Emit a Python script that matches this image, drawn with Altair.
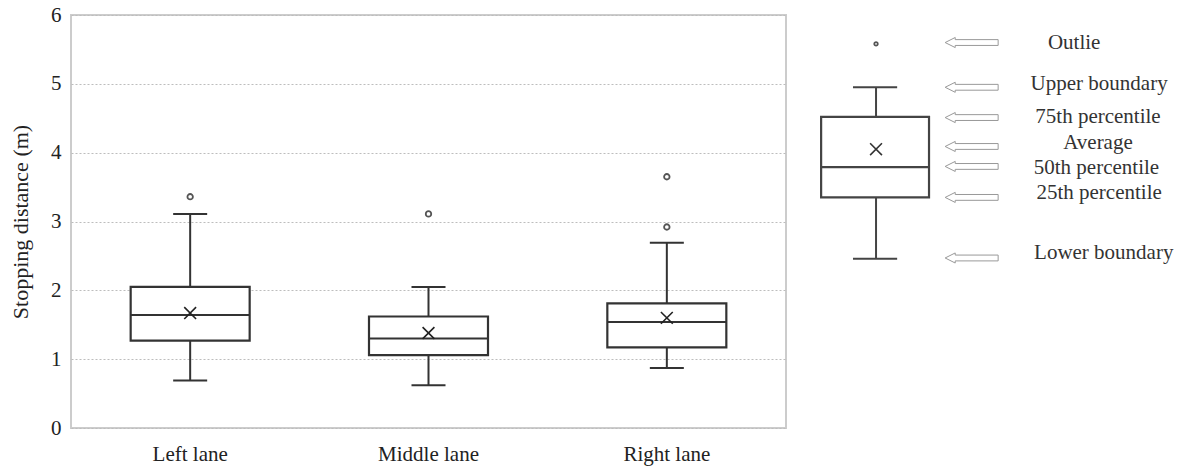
import altair as alt
import pandas as pd

# ---- data ----
lanes = ["Left lane", "Middle lane", "Right lane"]
lower_whisker = [0.69, 0.62, 0.87]
q1 = [1.27, 1.06, 1.17]
median = [1.64, 1.30, 1.54]
mean = [1.67, 1.38, 1.60]
q3 = [2.05, 1.62, 1.81]
upper_whisker = [3.11, 2.05, 2.69]

outlier_lanes = ["Left lane", "Middle lane", "Right lane", "Right lane"]
outlier_values = [3.36, 3.11, 3.65, 2.92]

y_ticks = [0, 1, 2, 3, 4, 5, 6]

# ---- explanatory key (schematic box plot) ----
key_labels = ["Outlie", "Upper boundary", "75th percentile", "Average",
              "50th percentile", "25th percentile", "Lower boundary"]
key_box_values = [5.58, 4.95, 4.52, 4.05, 3.79, 3.35, 2.46]  # outlier, upper, q3, mean, median, q1, lower
key_arrow_y = [5.60, 4.95, 4.51, 4.09, 3.80, 3.35, 2.47]
key_label_y = [5.60, 5.00, 4.52, 4.14, 3.77, 3.42, 2.54]
key_label_x = [0.714, 0.779, 0.776, 0.776, 0.772, 0.779, 0.791]
key_box_x = [0.055, 0.336, 0.198]      # left, right, centre (fraction of key panel)
key_cap_x = [0.138, 0.253]
key_arrow_x = 0.447

FONT = "Liberation Serif"
YTITLE = "Stopping distance (m)"
yscale = alt.Scale(domain=[0, 6])
yaxis = alt.Axis(values=y_ticks, format="d", grid=True, gridColor="#bdbdbd",
                 gridDash=[2, 2], gridWidth=1, labelPadding=10, titlePadding=18,
                 labelFont=FONT, labelFontSize=21, labelColor="#222",
                 titleFont=FONT, titleFontSize=22, titleFontWeight="normal",
                 titleColor="#222", domain=False, ticks=False)

df = pd.DataFrame({"lane": lanes, "lo": lower_whisker, "q1": q1, "med": median,
                   "mean": mean, "q3": q3, "hi": upper_whisker})
out_df = pd.DataFrame({"lane": outlier_lanes, "value": outlier_values})

xenc = alt.X("lane:N", scale=alt.Scale(domain=lanes, paddingInner=0, paddingOuter=0),
             title=None,
             axis=alt.Axis(labelAngle=0, labelFont=FONT, labelFontSize=21, labelColor="#222",
                           labelPadding=15, domain=False, ticks=False, grid=False))


def Y(f):
    return alt.Y(f"{f}:Q", scale=yscale, title=YTITLE, axis=yaxis)


INK = "#333"
base = alt.Chart(df)
whisk = base.mark_rule(color=INK, strokeWidth=2).encode(x=xenc, y=Y("lo"), y2="hi:Q")
box = base.mark_bar(fill="white", stroke=INK, strokeWidth=2.2, width=119).encode(
    x=xenc, y=Y("q1"), y2="q3:Q")
med = base.mark_tick(color=INK, size=119, thickness=2, opacity=1).encode(x=xenc, y=Y("med"))
cap_lo = base.mark_tick(color=INK, size=34, thickness=2, opacity=1).encode(x=xenc, y=Y("lo"))
cap_hi = base.mark_tick(color=INK, size=34, thickness=2, opacity=1).encode(x=xenc, y=Y("hi"))
xshape = "M-1,-1L1,1M-1,1L1,-1"
mean_pt = base.mark_point(shape=xshape, size=140, filled=False, color="#222",
                          strokeWidth=1.6, opacity=1).encode(x=xenc, y=Y("mean"))
outs = alt.Chart(out_df).mark_point(shape="circle", size=30, filled=False, color="#555",
                                    strokeWidth=1.8, opacity=1).encode(x=xenc, y=Y("value"))

main = alt.layer(whisk, box, med, cap_lo, cap_hi, mean_pt, outs)

# key layers
kscale = alt.Scale(domain=[0, 1], range=[729, 1113])


def KX(f):
    return alt.X(f"{f}:Q", scale=kscale, axis=None)


kdf = pd.DataFrame([{
    "out": key_box_values[0], "hi": key_box_values[1], "q3": key_box_values[2],
    "mean": key_box_values[3], "med": key_box_values[4], "q1": key_box_values[5],
    "lo": key_box_values[6],
    "xl": key_box_x[0], "xr": key_box_x[1], "xc": key_box_x[2],
    "cl": key_cap_x[0], "cr": key_cap_x[1],
}])
kb = alt.Chart(kdf)
KINK = "#444"
k_whisk = kb.mark_rule(color=KINK, strokeWidth=2).encode(x=KX("xc"), y=Y("lo"), y2="hi:Q")
k_box = kb.mark_rect(fill="white", stroke=KINK, strokeWidth=2.2).encode(
    x=KX("xl"), x2="xr:Q", y=Y("q1"), y2="q3:Q")
k_med = kb.mark_rule(color=KINK, strokeWidth=2.2).encode(x=KX("xl"), x2="xr:Q", y=Y("med"))
k_cap_lo = kb.mark_rule(color=KINK, strokeWidth=2).encode(x=KX("cl"), x2="cr:Q", y=Y("lo"))
k_cap_hi = kb.mark_rule(color=KINK, strokeWidth=2).encode(x=KX("cl"), x2="cr:Q", y=Y("hi"))
k_mean = kb.mark_point(shape=xshape, size=140, filled=False, color="#333",
                       strokeWidth=1.6, opacity=1).encode(x=KX("xc"), y=Y("mean"))
k_out = kb.mark_point(shape="circle", size=12, filled=False, color="#555",
                      strokeWidth=1.8, opacity=1).encode(x=KX("xc"), y=Y("out"))

adf = pd.DataFrame({"label": key_labels, "ay": key_arrow_y, "ly": key_label_y,
                    "lx": key_label_x, "ax": [key_arrow_x] * len(key_labels)})
arrow_path = "M-1,0L-0.62,-0.19L-0.62,-0.11L1,-0.11L1,0.11L-0.62,0.11L-0.62,0.19Z"
k_arrows = alt.Chart(adf).mark_point(shape=arrow_path, size=2809, filled=False,
                                     color="#999", strokeWidth=1, opacity=1).encode(
    x=KX("ax"), y=Y("ay"))
k_text = alt.Chart(adf).mark_text(font=FONT, fontSize=21, align="center", baseline="middle",
                                  color="#333").encode(x=KX("lx"), y=Y("ly"), text="label:N")

key = alt.layer(k_whisk, k_box, k_med, k_cap_lo, k_cap_hi, k_mean, k_out, k_arrows, k_text)

chart = alt.layer(main, key).resolve_scale(x="independent").properties(
    width=715, height=413,
    autosize=alt.AutoSizeParams(type="none"),
    padding={"left": 71, "top": 15, "right": 398, "bottom": 41},
).configure_view(
    stroke="#cccccc", strokeWidth=2
)

chart.save("out.html", embed_options={"renderer": "svg", "actions": False})
